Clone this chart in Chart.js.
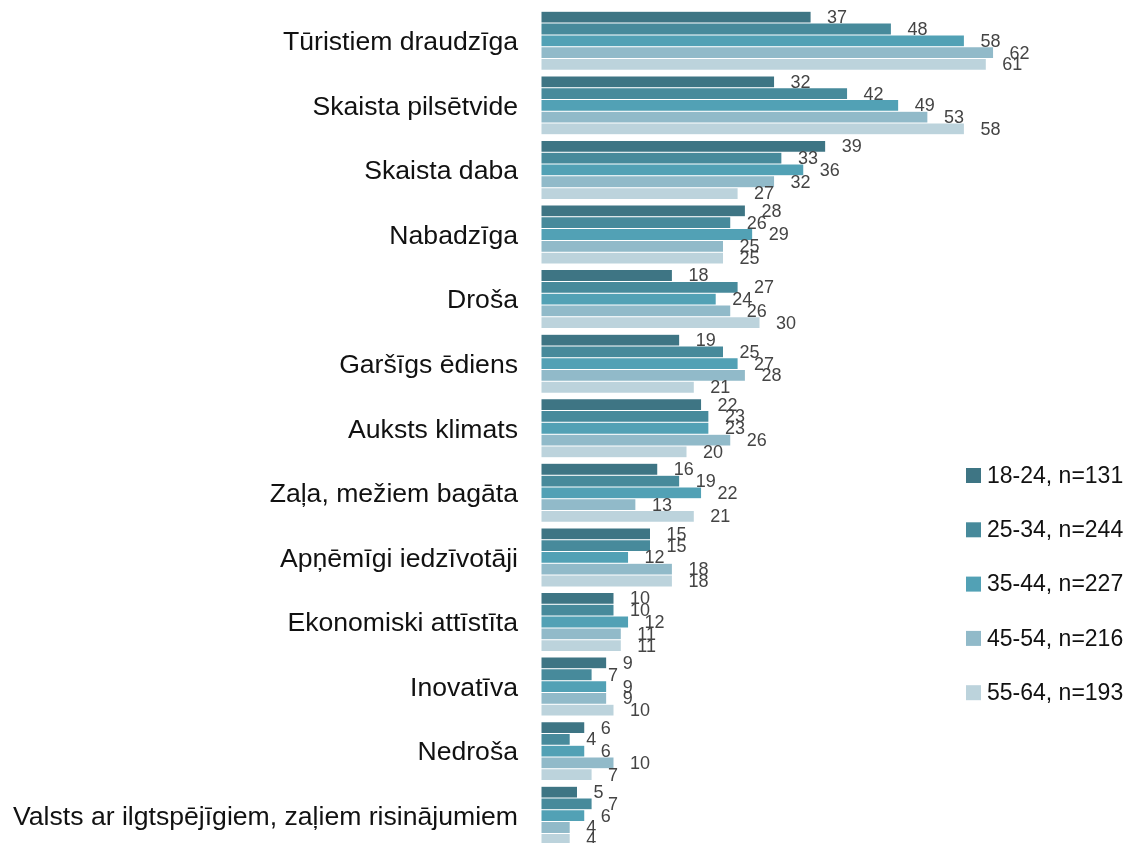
<!DOCTYPE html>
<html>
<head>
<meta charset="utf-8">
<script src="https://cdn.jsdelivr.net/npm/chart.js@4.4.1/dist/chart.umd.min.js"></script>
<style>
  html, body { margin: 0; padding: 0; background: #ffffff; overflow: hidden; }
  #wrap { position: relative; width: 1127px; height: 850px; }
</style>
</head>
<body>
<div id="wrap"><canvas id="c"></canvas></div>
<script>
const categories = [
  "Tūristiem draudzīga",
  "Skaista pilsētvide",
  "Skaista daba",
  "Nabadzīga",
  "Droša",
  "Garšīgs ēdiens",
  "Auksts klimats",
  "Zaļa, mežiem bagāta",
  "Apņēmīgi iedzīvotāji",
  "Ekonomiski attīstīta",
  "Inovatīva",
  "Nedroša",
  "Valsts ar ilgtspējīgiem, zaļiem risinājumiem"
];
const seriesNames = ["18-24, n=131", "25-34, n=244", "35-44, n=227", "45-54, n=216", "55-64, n=193"];
const age18_24 = [37, 32, 39, 28, 18, 19, 22, 16, 15, 10, 9, 6, 5];
const age25_34 = [48, 42, 33, 26, 27, 25, 23, 19, 15, 10, 7, 4, 7];
const age35_44 = [58, 49, 36, 29, 24, 27, 23, 22, 12, 12, 9, 6, 6];
const age45_54 = [62, 53, 32, 25, 26, 28, 26, 13, 18, 11, 9, 10, 4];
const age55_64 = [61, 58, 27, 25, 30, 21, 20, 21, 18, 11, 10, 7, 4];
const seriesColors = ["#3e7584", "#478a9b", "#52a1b5", "#91bac9", "#bcd3dc"];

const seriesValues = [age18_24, age25_34, age35_44, age45_54, age55_64];
const FONT = "'Liberation Sans', Arial, Helvetica, sans-serif";

const valueLabels = {
  id: 'valueLabels',
  afterDatasetsDraw(chart) {
    const ctx = chart.ctx;
    ctx.save();
    ctx.font = "18px " + FONT;
    ctx.fillStyle = "#444444";
    ctx.textAlign = "left";
    ctx.textBaseline = "middle";
    chart.data.datasets.forEach((ds, di) => {
      const meta = chart.getDatasetMeta(di);
      meta.data.forEach((el, i) => {
        ctx.fillText(String(ds.data[i]), el.x + 16, el.y + 1);
      });
    });
    ctx.restore();
  }
};

const sideLegend = {
  id: 'sideLegend',
  afterDraw(chart) {
    const ctx = chart.ctx;
    ctx.save();
    ctx.font = "23px " + FONT;
    ctx.textAlign = "left";
    ctx.textBaseline = "middle";
    const boxX = 966, y0 = 475.5, step = 54.3, box = 15;
    chart.data.datasets.forEach((ds, i) => {
      const y = y0 + i * step;
      ctx.fillStyle = ds.backgroundColor;
      ctx.fillRect(boxX, y - box / 2, box, box);
      ctx.fillStyle = "#111111";
      ctx.fillText(ds.label, boxX + box + 6, y + 1);
    });
    ctx.restore();
  }
};

new Chart(document.getElementById('c'), {
  type: 'bar',
  data: {
    labels: categories,
    datasets: seriesNames.map((name, i) => ({
      label: name,
      data: seriesValues[i],
      backgroundColor: seriesColors[i],
      borderColor: 'rgba(255,255,255,0.35)',
      borderWidth: 0.5,
      borderSkipped: false,
      categoryPercentage: 0.913,
      barPercentage: 1.0
    }))
  },
  options: {
    indexAxis: 'y',
    responsive: true,
    maintainAspectRatio: false,
    animation: false,
    layout: { padding: { top: 8.5, bottom: 2, left: 0, right: 2 } },
    plugins: {
      legend: { display: false },
      tooltip: { enabled: false }
    },
    scales: {
      x: {
        display: false,
        min: 0,
        max: 80
      },
      y: {
        grid: { display: false, drawTicks: false },
        border: { display: false },
        ticks: {
          color: '#111111',
          padding: 23,
          labelOffset: 2,
          font: { family: FONT, size: 26.6 }
        },
        afterFit(scale) {
          scale.width = 541;
          scale.paddingTop = 0;
          scale.paddingBottom = 0;
        }
      }
    }
  },
  plugins: [valueLabels, sideLegend]
});
</script>
</body>
</html>
